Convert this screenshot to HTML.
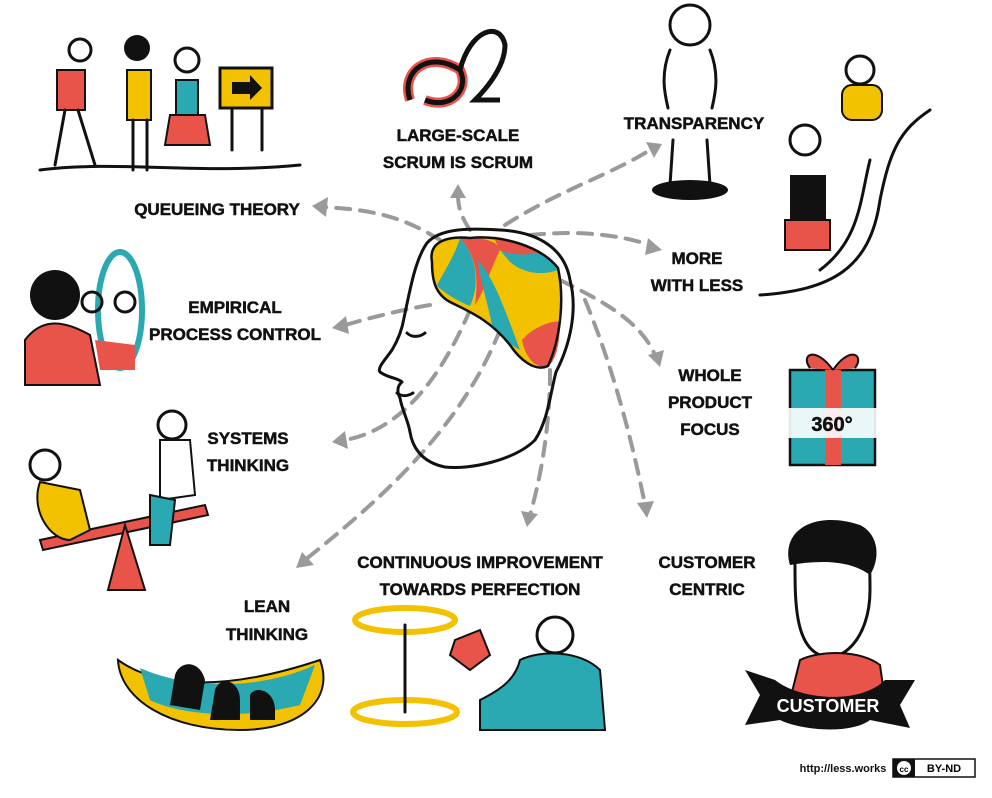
<!DOCTYPE html>
<html><head><meta charset="utf-8"><style>
body{margin:0;background:#fff;}
svg{display:block}
.t{font-family:"Liberation Sans",sans-serif;font-weight:bold;font-size:17px;fill:#111;stroke:#111;stroke-width:0.5;text-anchor:middle;}
.a{fill:none;stroke:#9a9a9a;stroke-width:4;stroke-dasharray:14 10;stroke-linecap:round}
.h{fill:#9a9a9a}
.k{stroke:#111;stroke-width:3;fill:none;stroke-linejoin:round;stroke-linecap:round}
</style></head><body>
<svg width="992" height="798" viewBox="0 0 992 798">
<!-- arrows -->
<path class="a" d="M440,240 C400,215 370,210 325,207"/><polygon class="h" points="312,206 328,197 326,217"/>
<path class="a" d="M470,230 C460,215 458,205 458,195"/><polygon class="h" points="458,184 450,198 466,198"/>
<path class="a" d="M505,225 C560,190 610,175 650,150"/><polygon class="h" points="662,144 646,142 654,158"/>
<path class="a" d="M530,235 C580,230 620,235 650,245"/><polygon class="h" points="662,250 648,238 645,255"/>
<path class="a" d="M560,280 C600,300 640,320 655,355"/><polygon class="h" points="660,367 648,355 664,350"/>
<path class="a" d="M430,305 C400,310 370,318 345,325"/><polygon class="h" points="332,328 346,316 349,334"/>
<path class="a" d="M470,310 C440,380 400,430 345,440"/><polygon class="h" points="332,442 345,431 348,449"/>
<path class="a" d="M500,330 C460,430 380,500 305,560"/><polygon class="h" points="296,568 302,552 314,565"/>
<path class="a" d="M550,370 C550,430 540,480 530,515"/><polygon class="h" points="527,527 521,511 538,514"/>
<path class="a" d="M585,300 C610,360 630,430 645,505"/><polygon class="h" points="647,518 637,503 654,501"/>
<!-- brain -->
<path d="M432,262 C428,240 450,236 470,238 C500,235 540,245 558,268 C565,300 560,340 548,366 C535,372 520,360 510,345 C490,320 470,312 452,303 C435,295 432,280 432,262Z" fill="#f2c200"/>
<path d="M460,238 C480,260 478,290 470,306 C455,300 440,290 437,285 C445,270 455,255 460,238Z" fill="#2aa9b3"/>
<path d="M460,238 C490,236 500,245 500,250 C490,270 485,290 475,305 C478,280 478,258 460,238Z" fill="#e8534a"/>
<path d="M500,250 C530,245 550,255 558,270 C545,275 525,275 510,262Z" fill="#2aa9b3"/>
<path d="M478,260 C495,280 505,310 520,350 C510,345 500,335 492,325 C487,300 480,280 478,260Z" fill="#2aa9b3"/>
<path d="M522,340 C535,325 555,320 560,322 C560,345 555,362 548,366 C535,370 525,356 522,340Z" fill="#e8534a"/>
<path d="M495,240 C510,240 530,245 540,252 C525,256 510,255 500,250Z" fill="#e8534a"/>
<path d="M432,262 C428,240 450,236 470,238 C500,235 540,245 558,268 C565,300 560,340 548,366 C535,372 520,360 510,345 C490,320 470,312 452,303 C435,295 432,280 432,262Z" fill="none" stroke="#111" stroke-width="2.5"/>
<!-- head -->
<path class="k" d="M427,243 C440,228 470,228 500,230 C540,232 565,250 570,280 C578,310 570,345 556,372 C550,395 548,420 535,440 C515,460 470,470 445,467 C420,462 412,445 410,432 C408,420 402,410 400,398 C397,392 397,386 402,382 C398,378 388,378 380,372 C377,368 385,360 392,350 C398,340 402,330 404,318 C410,290 415,260 427,243Z"/>
<path class="k" d="M407,333 C412,338 420,337 425,333" stroke-width="2"/>
<path class="k" d="M397,393 C402,397 408,396 413,393" stroke-width="2"/>
<!-- labels -->
<text class="t" x="217" y="215">QUEUEING THEORY</text>
<text class="t" x="458" y="141">LARGE-SCALE</text><text class="t" x="458" y="168">SCRUM IS SCRUM</text>
<text class="t" x="694" y="129">TRANSPARENCY</text>
<text class="t" x="697" y="264">MORE</text><text class="t" x="697" y="291">WITH LESS</text>
<text class="t" x="235" y="313">EMPIRICAL</text><text class="t" x="235" y="340">PROCESS CONTROL</text>
<text class="t" x="710" y="381">WHOLE</text><text class="t" x="710" y="408">PRODUCT</text><text class="t" x="710" y="435">FOCUS</text>
<text class="t" x="248" y="444">SYSTEMS</text><text class="t" x="248" y="471">THINKING</text>
<text class="t" x="480" y="568">CONTINUOUS IMPROVEMENT</text><text class="t" x="480" y="595">TOWARDS PERFECTION</text>
<text class="t" x="707" y="568">CUSTOMER</text><text class="t" x="707" y="595">CENTRIC</text>
<text class="t" x="267" y="612">LEAN</text><text class="t" x="267" y="640">THINKING</text>
<!-- queueing -->
<path class="k" d="M40,170 C120,160 200,175 300,165"/>
<rect x="57" y="70" width="28" height="40" fill="#e8534a" stroke="#111" stroke-width="2"/>
<rect x="127" y="70" width="24" height="50" fill="#f2c200" stroke="#111" stroke-width="2"/>
<rect x="176" y="80" width="22" height="35" fill="#2aa9b3" stroke="#111" stroke-width="2"/>
<path d="M170,115 L205,115 L210,145 L165,145Z" fill="#e8534a" stroke="#111" stroke-width="2"/>
<circle cx="80" cy="50" r="11" class="k"/><circle cx="137" cy="48" r="13" fill="#111"/><circle cx="187" cy="60" r="12" class="k"/>
<path class="k" d="M65,110 L55,165 M78,110 L95,165 M133,120 L133,170 M147,120 L147,170"/>
<rect x="220" y="68" width="52" height="40" fill="#f2c200" stroke="#111" stroke-width="3"/>
<path d="M232,82 L250,82 L250,75 L262,88 L250,100 L250,94 L232,94Z" fill="#111"/>
<path class="k" d="M232,108 L232,150 M262,108 L262,150"/>
<!-- scrum -->
<path d="M410,100 C400,70 430,50 460,70 C470,90 450,110 425,100" fill="none" stroke="#e8534a" stroke-width="10"/>
<path d="M410,100 C400,70 430,50 460,70 C470,90 450,110 425,100 M460,70 C470,30 500,20 505,45 C505,70 480,95 475,100 L500,100" fill="none" stroke="#111" stroke-width="5"/>
<!-- transparency -->
<circle cx="690" cy="25" r="20" class="k"/>
<path class="k" d="M670,50 C660,75 665,95 668,108 M710,50 C720,75 715,95 712,108 M673,140 L670,185 M707,140 L710,185"/>
<ellipse cx="690" cy="190" rx="38" ry="10" fill="#111"/>
<!-- more with less -->
<path class="k" d="M760,295 C830,290 870,270 880,200 C890,150 900,130 930,110" stroke-width="2.5"/>
<path class="k" d="M820,270 C860,240 860,200 870,160"/>
<circle cx="860" cy="70" r="14" class="k"/><rect x="842" y="85" width="40" height="35" rx="10" fill="#f2c200" stroke="#111" stroke-width="2"/>
<circle cx="805" cy="140" r="15" class="k"/>
<rect x="790" y="175" width="36" height="45" fill="#111"/><rect x="785" y="220" width="45" height="30" fill="#e8534a" stroke="#111" stroke-width="2"/>
<!-- empirical -->
<path d="M25,340 C40,320 60,318 90,335 L100,385 L25,385Z" fill="#e8534a" stroke="#111" stroke-width="2"/>
<circle cx="55" cy="295" r="25" fill="#111"/>
<ellipse cx="120" cy="310" rx="22" ry="58" fill="#fff" stroke="#2aa9b3" stroke-width="6"/>
<circle cx="92" cy="302" r="10" class="k"/><circle cx="125" cy="302" r="10" class="k"/>
<path d="M95,340 L135,345 L135,370 L100,370Z" fill="#e8534a"/>
<!-- systems thinking -->
<path d="M40,540 L205,505 L208,515 L43,550Z" fill="#e8534a" stroke="#111" stroke-width="2"/>
<polygon points="125,525 108,590 145,590" fill="#e8534a" stroke="#111" stroke-width="2"/>
<circle cx="45" cy="465" r="15" class="k"/><path d="M40,482 C30,510 50,540 70,540 L90,530 L80,490Z" fill="#f2c200" stroke="#111" stroke-width="2"/>
<circle cx="172" cy="425" r="14" class="k"/><path d="M160,440 L190,440 L195,495 L160,500Z" fill="#fff" stroke="#111" stroke-width="2"/>
<path d="M150,495 L175,500 L170,545 L150,545Z" fill="#2aa9b3" stroke="#111" stroke-width="2"/>
<!-- lean -->
<path d="M118,660 C160,690 230,690 320,660 C335,700 300,730 240,730 C170,730 120,700 118,660Z" fill="#f2c200" stroke="#111" stroke-width="2"/>
<path d="M140,668 C190,690 260,690 315,665 L300,705 C240,720 180,715 150,700Z" fill="#2aa9b3"/>
<path d="M175,675 C180,660 200,660 205,680 L200,710 L170,705Z M215,690 C220,675 240,680 240,700 L240,720 L210,720Z M250,695 C255,685 275,690 275,710 L275,720 L250,720Z" fill="#111"/>
<!-- continuous improvement -->
<ellipse cx="405" cy="620" rx="50" ry="12" fill="none" stroke="#f2c200" stroke-width="6"/>
<ellipse cx="405" cy="712" rx="52" ry="12" fill="none" stroke="#f2c200" stroke-width="6"/>
<path class="k" d="M405,625 L405,712" stroke-width="4"/>
<polygon points="455,640 480,630 490,655 470,670 450,655" fill="#e8534a" stroke="#111" stroke-width="2"/>
<circle cx="555" cy="635" r="18" class="k"/><path d="M520,660 C540,650 580,650 600,670 L605,730 L480,730 L480,700 C500,690 515,680 520,660Z" fill="#2aa9b3" stroke="#111" stroke-width="2"/>
<!-- whole product -->
<rect x="790" y="370" width="85" height="95" fill="#2aa9b3" stroke="#111" stroke-width="2.5"/>
<rect x="825" y="370" width="16" height="95" fill="#e8534a"/>
<path d="M833,370 C815,345 800,355 810,368 M833,370 C850,345 865,355 855,368" fill="#e8534a" stroke="#111" stroke-width="2"/>
<rect x="780" y="408" width="105" height="30" fill="#fff" opacity=".9"/>
<text x="832" y="431" class="t" style="font-size:20px">360°</text>
<!-- customer -->
<path d="M795,565 C790,535 820,520 850,530 C870,540 870,565 870,590 C870,640 840,665 820,655 C795,645 795,600 795,565Z" fill="#fff" stroke="#111" stroke-width="3"/>
<path d="M790,565 C780,530 815,510 860,525 C880,535 880,560 870,575 C850,560 820,560 790,565Z" fill="#111"/>
<path d="M800,660 C820,650 860,650 880,665 L885,700 L790,700Z" fill="#e8534a" stroke="#111" stroke-width="2"/>
<path d="M745,670 L775,680 C800,700 860,705 885,680 L915,680 L900,705 L910,728 L870,720 C850,735 800,730 780,720 L745,725 L760,695Z" fill="#111"/>
<text x="828" y="712" style="font-family:'Liberation Sans',sans-serif;font-weight:bold;font-size:18px;fill:#fff;text-anchor:middle">CUSTOMER</text>
<!-- footer -->
<text x="843" y="772" style="font-family:'Liberation Sans',sans-serif;font-size:11px;font-weight:bold;fill:#111;text-anchor:middle">http://less.works</text>
<rect x="893" y="759" width="82" height="18" fill="#fff" stroke="#111" stroke-width="1.5"/>
<rect x="893" y="759" width="22" height="18" fill="#111"/>
<circle cx="904" cy="768" r="7" fill="#fff"/>
<text x="904" y="772" style="font-family:'Liberation Sans',sans-serif;font-size:8px;font-weight:bold;text-anchor:middle">cc</text>
<text x="944" y="772" style="font-family:'Liberation Sans',sans-serif;font-size:11px;font-weight:bold;text-anchor:middle">BY-ND</text>
</svg>
</body></html>
